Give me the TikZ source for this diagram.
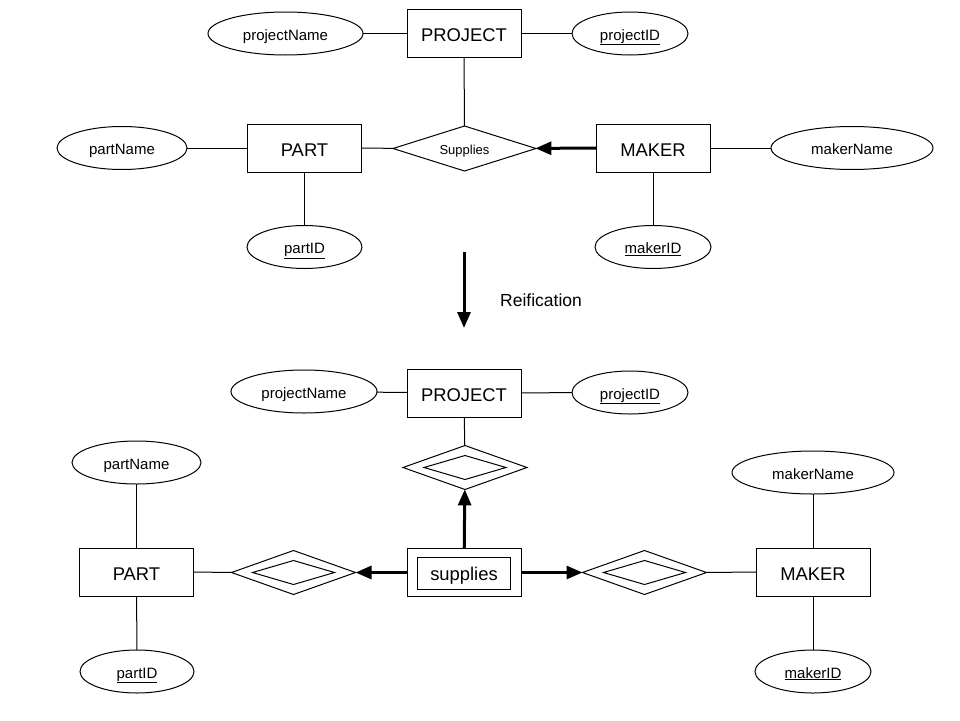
\documentclass[tikz,border=0pt]{standalone}
\usepackage{fontspec}
\setmainfont{Liberation Sans}
\usetikzlibrary{shapes.geometric,arrows.meta}
\tikzset{
  ent/.style   ={draw, line width=1pt, minimum width=114pt, minimum height=48pt,
                 inner sep=0pt, outer sep=0pt, text height=16pt, text depth=0pt,
                 font=\fontsize{18.4}{22}\selectfont},
  entin/.style ={draw, line width=1pt, minimum width=93pt, minimum height=32pt,
                 inner sep=0pt, outer sep=0pt},
  attr/.style  ={draw, ellipse, line width=1pt, minimum height=43pt,
                 inner sep=0pt, outer sep=0pt, text height=13pt, text depth=0pt,
                 font=\fontsize{15}{18}\selectfont},
  rel/.style   ={draw, diamond, aspect=3, line width=1pt, minimum width=143pt,
                 minimum height=45pt, inner sep=0pt, outer sep=0pt,
                 text height=11pt, text depth=0pt,
                 font=\fontsize{13}{16}\selectfont},
  wrel/.style  ={draw, diamond, aspect=3, line width=1pt, minimum width=124pt,
                 minimum height=44pt, inner sep=0pt, outer sep=0pt},
  wrelin/.style={draw, diamond, aspect=3, line width=1pt, minimum width=82pt,
                 minimum height=24pt, inner sep=0pt, outer sep=0pt},
  ln/.style    ={line width=1pt},
  ar/.style    ={-{Triangle[length=16pt,width=13pt]}, line width=3pt},
  tag/.style   ={font=\fontsize{17.5}{21}\selectfont, inner sep=0pt}
}
\begin{document}
\begin{tikzpicture}[x=1pt, y=-1pt]
\useasboundingbox (0,0) rectangle (960,720);
% Before: one ternary relationship
\node[ent]  (proj)  at (464,33.5)  {PROJECT};
\node[attr, minimum width=155pt] (pname) at (285.5,33.5) {projectName};
\node[attr, minimum width=116pt] (pid)   at (630,33.5)   {\underline{projectID}};
\node[rel]  (supr)  at (464.5,148.5) {Supplies};
\node[ent]  (part)  at (304.5,148) {PART};
\node[ent]  (maker) at (653,148)   {MAKER};
\node[attr, minimum width=130pt] (ptname) at (122,148)   {partName};
\node[attr, minimum width=162pt] (mname)  at (852,148)   {makerName};
\node[attr, minimum width=115pt] (ptid)   at (304.5,247) {\underline{partID}};
\node[attr, minimum width=116pt] (mid)    at (653,247)   {\underline{makerID}};

\draw[ln] (pname) -- (proj);
\draw[ln] (proj) -- (pid);
\draw[ln] (proj) -- (supr);
\draw[ln] (ptname) -- (part);
\draw[ln] (part) -- (supr);
\draw[ln] (maker) -- (mname);
\draw[ln] (part) -- (ptid);
\draw[ln] (maker) -- (mid);
\draw[ar] (maker) -- (supr);

% Reification step
\coordinate (rtop) at (464,252);
\coordinate (rbot) at (464,328);
\draw[ar] (rtop) -- (rbot);
\node[tag, anchor=west] (rlabel) at (500,300) {Reification};

% After: weak entity with three binary relationships
\node[ent]  (proj2) at (464,393)   {PROJECT};
\node[attr, minimum width=146pt] (pname2) at (304,391.5) {projectName};
\node[attr, minimum width=116pt] (pid2)   at (630,392.5) {\underline{projectID}};
\node[wrel]   (rproj)   at (465,467.5) {};
\node[wrelin] (rprojin) at (465,467.5) {};
\node[ent]   (sup)   at (464,572.5) {supplies};
\node[entin] (supin) at (463.5,573) {};
\node[wrel]   (rpart)   at (293.5,572.5) {};
\node[wrelin] (rpartin) at (293.5,572.5) {};
\node[wrel]   (rmak)    at (644.5,572.5) {};
\node[wrelin] (rmakin)  at (644.5,572.5) {};
\node[ent]  (part2)  at (136.5,572) {PART};
\node[ent]  (maker2) at (813,572)   {MAKER};
\node[attr, minimum width=129pt] (ptname2) at (136.5,462.5) {partName};
\node[attr, minimum width=114pt] (ptid2)   at (137,671.5)   {\underline{partID}};
\node[attr, minimum width=162pt] (mname2)  at (813,472.5)   {makerName};
\node[attr, minimum width=116pt] (mid2)    at (813,671.5)   {\underline{makerID}};

\draw[ln] (pname2) -- (proj2);
\draw[ln] (proj2) -- (pid2);
\draw[ln] (proj2) -- (rproj);
\draw[ln] (rpart) -- (part2);
\draw[ln] (rmak) -- (maker2);
\draw[ln] (ptname2) -- (part2);
\draw[ln] (part2) -- (ptid2);
\draw[ln] (mname2) -- (maker2);
\draw[ln] (maker2) -- (mid2);
\draw[ar] (sup) -- (rproj);
\draw[ar] (sup) -- (rpart);
\draw[ar] (sup) -- (rmak);
\end{tikzpicture}
\end{document}
